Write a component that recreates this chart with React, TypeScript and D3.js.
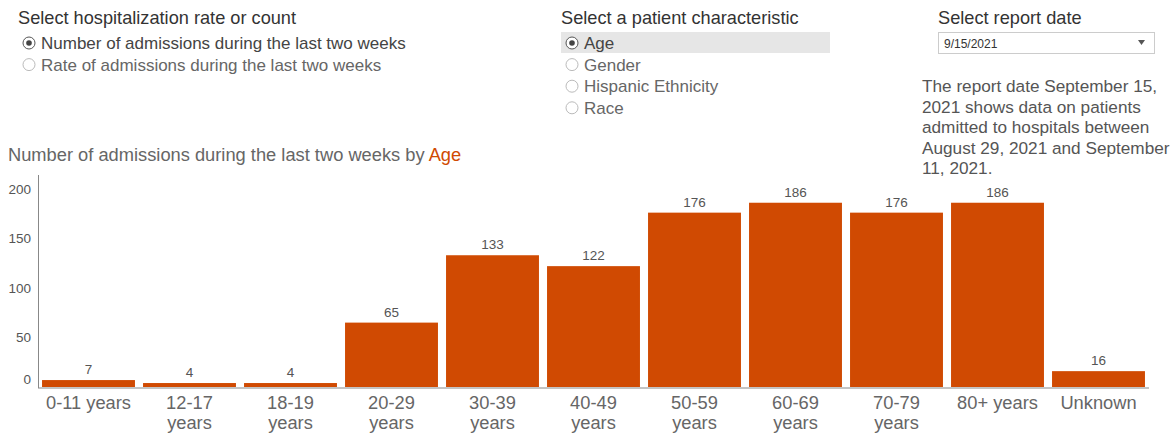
import React, { useEffect, useRef } from 'react';
import * as d3 from 'd3';

// chart data
const categories = ['0-11 years', '12-17 years', '18-19 years', '20-29 years', '30-39 years', '40-49 years', '50-59 years', '60-69 years', '70-79 years', '80+ years', 'Unknown'];
const admissions = [7, 4, 4, 65, 133, 122, 176, 186, 176, 186, 16];
const categoryLines = [['0-11 years'], ['12-17', 'years'], ['18-19', 'years'], ['20-29', 'years'], ['30-39', 'years'], ['40-49', 'years'], ['50-59', 'years'], ['60-69', 'years'], ['70-79', 'years'], ['80+ years'], ['Unknown']];
const yTicks = [0, 50, 100, 150, 200];

const measureOptions = ['Number of admissions during the last two weeks', 'Rate of admissions during the last two weeks'];
const characteristicOptions = ['Age', 'Gender', 'Hispanic Ethnicity', 'Race'];
const reportDate = '9/15/2021';
const noteLines = ['The report date September 15,', '2021 shows data on patients', 'admitted to hospitals between', 'August 29, 2021 and September', '11, 2021.'];

const FONT = '"Liberation Sans", Arial, Helvetica, sans-serif';
const ORANGE = '#d04a02';

const App = () => {
    const svgRef = useRef<SVGSVGElement>(null);

    useEffect(() => {
        const width = 1173;
        const height = 435;
        const svg = d3.select(svgRef.current);
        svg.selectAll('*').remove();
        svg.attr('width', width).attr('height', height).style('font-family', FONT);

        // --- controls ---
        const radioGroup = (x: number, title: string, options: string[], selected: number, highlightWidth: number) => {
            const g = svg.append('g');
            g.append('text').attr('x', x).attr('y', 24).attr('font-size', 18.2).attr('fill', '#333').text(title);
            if (highlightWidth > 0) {
                g.append('rect').attr('x', x).attr('y', 32).attr('width', highlightWidth).attr('height', 21).attr('fill', '#e6e6e6');
            }
            options.forEach((opt, i) => {
                const cy = 43 + i * 21.6;
                g.append('circle').attr('cx', x + 11).attr('cy', cy).attr('r', 6)
                    .attr('fill', '#fff').attr('stroke', i === selected ? '#555' : '#bbb').attr('stroke-width', 1);
                if (i === selected) {
                    g.append('circle').attr('cx', x + 11).attr('cy', cy).attr('r', 2.8).attr('fill', '#444');
                }
                g.append('text').attr('x', x + 23).attr('y', cy + 6).attr('font-size', 17)
                    .attr('fill', i === selected ? '#444' : '#666').text(opt);
            });
        };
        radioGroup(18, 'Select hospitalization rate or count', measureOptions, 0, 0);
        radioGroup(561, 'Select a patient characteristic', characteristicOptions, 0, 269);

        // report date dropdown
        svg.append('text').attr('x', 938).attr('y', 24).attr('font-size', 18.2).attr('fill', '#333').text('Select report date');
        svg.append('rect').attr('x', 938.5).attr('y', 32.5).attr('width', 216).attr('height', 21)
            .attr('fill', '#fff').attr('stroke', '#ccc');
        svg.append('text').attr('x', 944).attr('y', 47.5).attr('font-size', 12).attr('fill', '#333').text(reportDate);
        svg.append('path').attr('d', 'M1138,40 L1145,40 L1141.5,45 Z').attr('fill', '#555');

        // note
        svg.append('g').selectAll('text').data(noteLines).join('text')
            .attr('x', 922).attr('y', (d, i) => 92 + i * 20.5)
            .attr('font-size', 17.2).attr('fill', '#555').text(d => d);

        // --- chart title ---
        const title = svg.append('text').attr('x', 8).attr('y', 161).attr('font-size', 18.3).attr('fill', '#666');
        title.append('tspan').text('Number of admissions during the last two weeks by ');
        title.append('tspan').attr('fill', ORANGE).text('Age');

        // --- scales ---
        const x0 = 38;
        const x1 = 1149;
        const yBase = 387;
        const xScale = d3.scaleBand().domain(categories).range([x0, x1]).paddingInner(0.08).paddingOuter(0.04);
        const yScale = d3.scaleLinear().domain([0, 214]).range([yBase, 175]);

        // bars
        svg.append('g').selectAll('rect').data(admissions).join('rect')
            .attr('x', (d, i) => xScale(categories[i]) as number)
            .attr('y', d => yScale(d))
            .attr('width', xScale.bandwidth())
            .attr('height', d => yBase - yScale(d))
            .attr('fill', ORANGE);

        // value labels
        svg.append('g').selectAll('text').data(admissions).join('text')
            .attr('x', (d, i) => (xScale(categories[i]) as number) + xScale.bandwidth() / 2)
            .attr('y', d => yScale(d) - 6)
            .attr('text-anchor', 'middle').attr('font-size', 13.5).attr('fill', '#555')
            .text(d => d);

        // y axis
        svg.append('line').attr('x1', x0 + 0.5).attr('x2', x0 + 0.5).attr('y1', 175).attr('y2', yBase + 1)
            .attr('stroke', '#888');
        svg.append('g').selectAll('text').data(yTicks).join('text')
            .attr('x', 31).attr('y', d => yScale(d) + 5 - (d === 0 ? 8 : 0))
            .attr('text-anchor', 'end').attr('font-size', 13.5).attr('fill', '#555')
            .text(d => d);

        // x axis
        svg.append('line').attr('x1', x0).attr('x2', x1).attr('y1', yBase + 1).attr('y2', yBase + 1)
            .attr('stroke', '#888');
        const xl = svg.append('g');
        categories.forEach((c, i) => {
            const cx = (xScale(c) as number) + xScale.bandwidth() / 2;
            xl.append('g').selectAll('text').data(categoryLines[i]).join('text')
                .attr('x', cx).attr('y', (d, j) => 409 + j * 20)
                .attr('text-anchor', 'middle').attr('font-size', 18.3).attr('fill', '#666')
                .text(d => d);
        });
    }, []);

    return (
        <div style={{ position: 'absolute', left: 0, top: 0, background: '#fff' }}>
            <svg ref={svgRef} style={{ display: 'block' }}></svg>
        </div>
    );
};

export default App;
